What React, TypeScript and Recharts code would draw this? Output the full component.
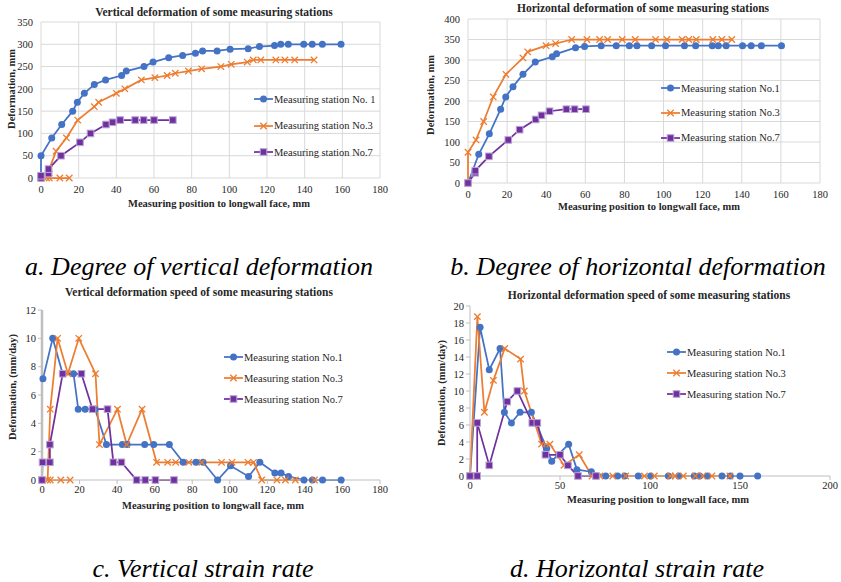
import React from 'react';
import { LineChart, Line, XAxis, YAxis, CartesianGrid } from 'recharts';

const FONT = '"Liberation Serif", "Times New Roman", serif';
const BLUE = '#4472C4';
const ORANGE = '#ED7D31';
const PURPLE = '#7030A0';

// ---- Panel a: vertical deformation (mm)
const vA1X = [0, 0, 5.7, 11, 16.8, 19.3, 23, 28.3, 34.3, 42.8, 45.3, 54.7, 59.5, 67.8, 75.2, 82, 85.8, 93.5, 100.4, 110, 116, 124, 127.3, 131.3, 139.5, 144, 149.4, 159.3];
const vA1Y = [0, 50, 90, 120, 150, 170, 190, 210, 220, 230, 240, 250, 260, 270, 275, 280, 285, 285, 289, 290, 295, 297, 300, 300, 300, 300, 300, 300];
const vA3X = [15, 10, 4.4, 3, 4.4, 8, 13.5, 19.5, 28.3, 30.6, 40, 44.5, 53.3, 60.5, 67, 71.3, 78.3, 85.3, 95.5, 101, 109.5, 112.7, 116.7, 124.7, 129.5, 134.7, 145];
const vA3Y = [0, 0, 0, 0, 20, 60, 90, 130, 160, 170, 190, 200, 220, 225, 230, 235, 240, 245, 250, 255, 260, 265, 265, 265, 265, 265, 265];
const vA7X = [0, 0, 4, 4, 10.6, 20.7, 26.3, 34.5, 38, 42, 50, 54.5, 60, 70];
const vA7Y = [0, 5, 10, 20, 50, 80, 100, 120, 125, 130, 130, 130, 130, 130];

// ---- Panel b: horizontal deformation (mm)
const hB1X = [0, 5.5, 10.9, 16.7, 19.3, 23, 28.1, 34.4, 43.1, 45.3, 55, 59.6, 68.1, 75.8, 82.5, 86.4, 93.9, 101, 110.7, 116.4, 124.9, 128, 132, 140.4, 144.8, 150, 160.3];
const hB1Y = [0, 70, 120, 180, 210, 235, 265, 295, 308, 315, 330, 333, 335, 335, 335, 335, 335, 335, 335, 335, 335, 335, 335, 335, 335, 335, 335];
const hB3X = [0, 0, 4.1, 8, 12.9, 19.4, 28.1, 30.5, 39.9, 44.8, 53, 60.8, 67.3, 71.4, 78.9, 85.5, 95.9, 101.7, 109.5, 112.9, 116.7, 125.2, 129.8, 134.9];
const hB3Y = [0, 75, 105, 150, 210, 265, 305, 320, 335, 340, 350, 350, 350, 350, 350, 350, 350, 350, 350, 350, 350, 350, 350, 350];
const hB7X = [0, 3.7, 3.7, 10.7, 20.6, 26.4, 34.6, 37.6, 41.7, 50.3, 54.5, 60.3];
const hB7Y = [0, 25, 30, 65, 105, 130, 155, 165, 175, 180, 180, 180];

// ---- Panel c: vertical deformation speed (mm/day)
const vC1X = [0.5, 5.7, 11, 16.8, 19.3, 23, 28.3, 34.3, 42.8, 45.3, 54.7, 59.5, 67.8, 75.2, 82, 85.8, 93.5, 100.4, 110, 116, 124, 127.3, 131.3, 139.5, 144, 149.4, 159.3];
const vC1Y = [7.14, 10, 7.5, 7.5, 5, 5, 5, 2.5, 2.5, 2.5, 2.5, 2.5, 2.5, 1.25, 1.25, 1.25, 0, 1, 0.25, 1.25, 0.5, 0.5, 0.25, 0, 0, 0, 0];
const vC3X = [15, 10, 4.4, 3, 4.4, 8.3, 13.8, 19.6, 28.5, 30.6, 40.2, 45.1, 53.3, 61, 66.9, 71.2, 78.2, 85.1, 95.6, 101.2, 109.7, 112.7, 117, 125.1, 129.6, 134.9, 145.1];
const vC3Y = [0, 0, 0, 0, 5, 10, 7.5, 10, 7.5, 2.5, 5, 2.5, 5, 1.25, 1.25, 1.25, 1.25, 1.25, 1.25, 1.25, 1.25, 1.25, 0, 0, 0, 0, 0];
const vC7X = [0, 0.3, 4.2, 4.2, 11, 21, 26.9, 34.9, 38, 42.3, 50.4, 55, 60.4, 70.3];
const vC7Y = [0, 1.25, 1.25, 2.5, 7.5, 7.5, 5, 5, 1.25, 1.25, 0, 0, 0, 0];

// ---- Panel d: horizontal deformation speed (mm/day)
const hD1X = [0, 5.6, 10.7, 16.7, 19.1, 23, 27.8, 34.1, 42.6, 45.4, 54.8, 59.4, 67.4, 75.4, 82, 85.9, 93.5, 100.4, 110.2, 116, 124.6, 127.6, 131.9, 140, 144.6, 150, 159.8];
const hD1Y = [0, 17.5, 12.5, 15, 7.5, 6.25, 7.5, 7.5, 3.25, 1.75, 3.75, 0.75, 0.5, 0, 0, 0, 0, 0, 0, 0, 0, 0, 0, 0, 0, 0, 0];
const hD3X = [0, 4.1, 8, 13, 19.3, 28.1, 30.2, 39.8, 44.4, 52.2, 60.7, 67.8, 72.2, 79.3, 86.5, 96.9, 102.4, 111.3, 114, 118.5, 125.2, 129.3, 134.4, 144.4];
const hD3Y = [0, 18.75, 7.5, 11.25, 15, 13.75, 10, 3.75, 3.75, 1.25, 2.5, 0, 0, 0, 0, 0, 0, 0, 0, 0, 0, 0, 0, 0];
const hD7X = [0, 4, 4, 10.7, 20.7, 26.3, 34.6, 37.4, 41.9, 50, 54.4, 60, 70];
const hD7Y = [0, 0, 6.25, 1.25, 8.75, 10, 6.25, 6.25, 2.5, 2.5, 1.25, 0, 0];

// ---- tick labels
const ticks0to180 = [0, 20, 40, 60, 80, 100, 120, 140, 160, 180];
const ticksA = [0, 50, 100, 150, 200, 250, 300, 350];
const ticksB = [0, 50, 100, 150, 200, 250, 300, 350, 400];
const ticksC = [0, 2, 4, 6, 8, 10, 12];
const ticksDX = [0, 50, 100, 150, 200];
const ticksDY = [0, 2, 4, 6, 8, 10, 12, 14, 16, 18, 20];

const zip = (xs: number[], ys: number[]) => xs.map((x, i) => ({ x, y: ys[i] }));

type Shape = 'circle' | 'x' | 'square';

const marker = (shape: Shape, color: string, cx: number, cy: number, key?: string) => {
  if (shape === 'circle') return <circle key={key} cx={cx} cy={cy} r={3.5} fill={color} />;
  if (shape === 'x')
    return (
      <g key={key} stroke={color} strokeWidth={1.3}>
        <line x1={cx - 3.2} y1={cy - 3.2} x2={cx + 3.2} y2={cy + 3.2} />
        <line x1={cx - 3.2} y1={cy + 3.2} x2={cx + 3.2} y2={cy - 3.2} />
      </g>
    );
  return <rect key={key} x={cx - 3.3} y={cy - 3.3} width={6.6} height={6.6} fill={color} stroke="#b9a6d3" strokeWidth={1} />;
};

const dotFn = (shape: Shape, color: string) => (props: any) => {
  const { cx, cy, index } = props;
  if (cx == null || cy == null) return <g key={`n${index}`} />;
  return marker(shape, color, cx, cy, `d${index}`);
};

type Series = { data: { x: number; y: number }[]; color: string; shape: Shape; name: string };

type PanelProps = {
  left: number; top: number; width: number; height: number;
  margin: { top: number; right: number; bottom: number; left: number };
  yWidth: number; xDomain: [number, number]; xTicks: number[];
  yDomain: [number, number]; yTicks: number[]; grid: boolean; series: Series[];
  thickY?: boolean;
};

const tickStyle = { fontSize: 10.5, fill: '#262626', fontFamily: FONT };

const Panel = (p: PanelProps) => (
  <div style={{ position: 'absolute', left: p.left, top: p.top }}>
    <LineChart width={p.width} height={p.height} margin={p.margin}>
      {p.grid && <CartesianGrid stroke="#d9d9d9" strokeWidth={1} />}
      <XAxis
        type="number" dataKey="x" domain={p.xDomain} ticks={p.xTicks} interval={0}
        height={20} tick={tickStyle}
        axisLine={p.grid ? false : { stroke: '#bfbfbf' }}
        tickLine={p.grid ? false : { stroke: '#bfbfbf' }}
        tickSize={p.grid ? 6 : 4}
      />
      <YAxis
        type="number" domain={p.yDomain} ticks={p.yTicks} interval={0}
        width={p.yWidth} tick={tickStyle}
        axisLine={p.grid ? false : { stroke: '#bfbfbf', strokeWidth: p.thickY ? 2.5 : 1 }}
        tickLine={p.grid ? false : { stroke: '#bfbfbf' }}
        tickSize={p.grid ? 6 : 4}
      />
      {p.series.map((s) => (
        <Line
          key={s.name} data={s.data} dataKey="y" type="linear" stroke={s.color}
          strokeWidth={1.75} dot={dotFn(s.shape, s.color)} activeDot={false}
          isAnimationActive={false} name={s.name}
        />
      ))}
    </LineChart>
  </div>
);

const Legend = ({ left, top, gap, series }: { left: number; top: number; gap: number; series: Series[] }) => (
  <>
    {series.map((s, i) => (
      <div key={s.name} style={{ position: 'absolute', left, top: top + i * gap - 7, height: 14, display: 'flex', alignItems: 'center', whiteSpace: 'nowrap' }}>
        <svg width={19} height={14}>
          <line x1={0} y1={7} x2={19} y2={7} stroke={s.color} strokeWidth={1.75} />
          {marker(s.shape, s.color, 9.5, 7)}
        </svg>
        <span style={{ fontFamily: FONT, fontSize: 10.5, color: '#262626', marginLeft: 1 }}>{s.name}</span>
      </div>
    ))}
  </>
);

const Text = ({ x, y, children, size, bold, italic, rotate }: any) => (
  <div
    style={{
      position: 'absolute', left: x, top: y, whiteSpace: 'nowrap', fontFamily: FONT,
      fontSize: size, fontWeight: bold ? 'bold' : 'normal', fontStyle: italic ? 'italic' : 'normal',
      color: italic ? '#000' : '#262626', lineHeight: 1,
      transform: `translate(-50%, -50%)${rotate ? ' rotate(-90deg)' : ''}`,
    }}
  >
    {children}
  </div>
);

export default function App() {
  const sA: Series[] = [
    { data: zip(vA1X, vA1Y), color: BLUE, shape: 'circle', name: 'Measuring station No. 1' },
    { data: zip(vA3X, vA3Y), color: ORANGE, shape: 'x', name: 'Measuring station No.3' },
    { data: zip(vA7X, vA7Y), color: PURPLE, shape: 'square', name: 'Measuring station No.7' },
  ];
  const sB: Series[] = [
    { data: zip(hB1X, hB1Y), color: BLUE, shape: 'circle', name: 'Measuring station No.1' },
    { data: zip(hB3X, hB3Y), color: ORANGE, shape: 'x', name: 'Measuring station No.3' },
    { data: zip(hB7X, hB7Y), color: PURPLE, shape: 'square', name: 'Measuring station No.7' },
  ];
  const sC: Series[] = [
    { data: zip(vC1X, vC1Y), color: BLUE, shape: 'circle', name: 'Measuring station No.1' },
    { data: zip(vC3X, vC3Y), color: ORANGE, shape: 'x', name: 'Measuring station No.3' },
    { data: zip(vC7X, vC7Y), color: PURPLE, shape: 'square', name: 'Measuring station No.7' },
  ];
  const sD: Series[] = [
    { data: zip(hD1X, hD1Y), color: BLUE, shape: 'circle', name: 'Measuring station No.1' },
    { data: zip(hD3X, hD3Y), color: ORANGE, shape: 'x', name: 'Measuring station No.3' },
    { data: zip(hD7X, hD7Y), color: PURPLE, shape: 'square', name: 'Measuring station No.7' },
  ];

  return (
    <div style={{ position: 'absolute', left: 0, top: 0, width: 841, height: 582, background: '#fff', overflow: 'hidden' }}>
      {/* Panel a */}
      <Panel left={0} top={0} width={420} height={200} margin={{ top: 22, right: 40, bottom: 2, left: 0 }}
        yWidth={41} xDomain={[0, 180]} xTicks={ticks0to180} yDomain={[0, 350]} yTicks={ticksA} grid series={sA} />
      <Text x={214} y={13} size={11.5} bold>Vertical deformation of some measuring stations</Text>
      <Text x={219} y={204} size={10.5} bold>Measuring position to longwall face, mm</Text>
      <Text x={12} y={89} size={10.5} bold rotate>Deformation, mm</Text>
      <Legend left={254} top={99} gap={26.5} series={sA} />

      {/* Panel b */}
      <Panel left={420} top={0} width={421} height={205} margin={{ top: 19, right: 21, bottom: 2, left: 0 }}
        yWidth={48} xDomain={[0, 180]} xTicks={ticks0to180} yDomain={[0, 400]} yTicks={ticksB} grid series={sB} />
      <Text x={643} y={9} size={11.5} bold>Horizontal deformation of some measuring stations</Text>
      <Text x={649} y={207} size={10.5} bold>Measuring position to longwall face, mm</Text>
      <Text x={431} y={95} size={10.5} bold rotate>Deformation, mm</Text>
      <Legend left={661} top={88} gap={24.8} series={sB} />

      {/* Panel c */}
      <Panel left={0} top={280} width={420} height={230} margin={{ top: 30, right: 40, bottom: 10, left: 0 }}
        yWidth={42} xDomain={[0, 180]} xTicks={ticks0to180} yDomain={[0, 12]} yTicks={ticksC} grid={false} thickY series={sC} />
      <Text x={199} y={293} size={11.5} bold>Vertical deformation speed of some measuring stations</Text>
      <Text x={213} y={506} size={10.5} bold>Measuring position to longwall face, mm</Text>
      <Text x={13} y={387} size={10.5} bold rotate>Deformation, (mm/day)</Text>
      <Legend left={224} top={357} gap={21} series={sC} />

      {/* Panel d */}
      <Panel left={420} top={280} width={421} height={230} margin={{ top: 26, right: 11, bottom: 14, left: 0 }}
        yWidth={50} xDomain={[0, 200]} xTicks={ticksDX} yDomain={[0, 20]} yTicks={ticksDY} grid={false} series={sD} />
      <Text x={649} y={296} size={11.5} bold>Horizontal deformation speed of some measuring stations</Text>
      <Text x={658} y={500} size={10.5} bold>Measuring position to longwall face, mm</Text>
      <Text x={442} y={393} size={10.5} bold rotate>Deformation, (mm/day)</Text>
      <Legend left={667} top={352} gap={21} series={sD} />

      {/* Captions */}
      <Text x={199} y={267} size={26} italic>a. Degree of vertical deformation</Text>
      <Text x={638} y={267} size={26} italic>b. Degree of horizontal deformation</Text>
      <Text x={203} y={569} size={26} italic>c. Vertical strain rate</Text>
      <Text x={637} y={569} size={26} italic>d. Horizontal strain rate</Text>
    </div>
  );
}
